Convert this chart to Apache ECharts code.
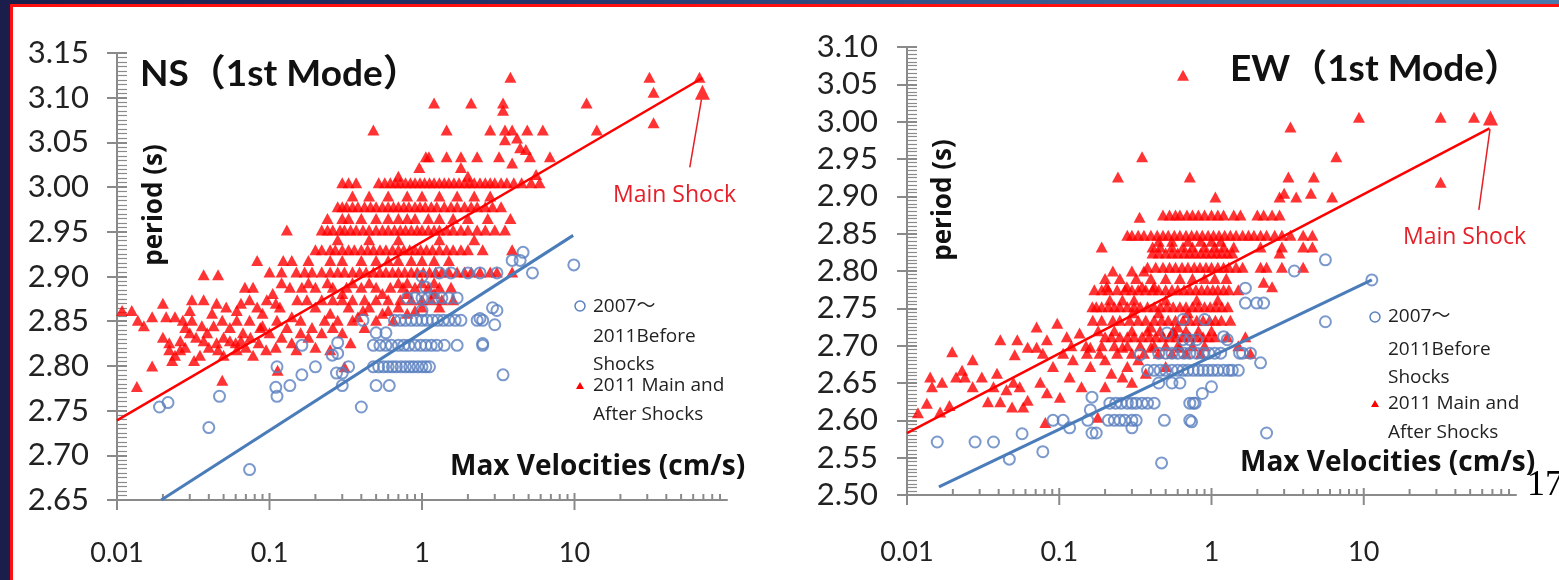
<!DOCTYPE html>
<html>
<head>
<meta charset="utf-8">
<script src="https://cdn.jsdelivr.net/npm/echarts@6/dist/echarts.min.js"></script>
<style>
  html, body { margin: 0; padding: 0; background: #fff; }
  #wrap { position: relative; width: 1559px; height: 580px; overflow: hidden; background: #fff; }
  #chart { position: absolute; left: 0; top: 0; width: 1559px; height: 580px; }
  .band-top { position: absolute; left: 0; top: 0; width: 1559px; height: 4px;
    background: linear-gradient(to right, #1b1e4b 0%, #24346a 35%, #3a5f93 70%, #4a79ab 100%); }
  .band-left { position: absolute; left: 0; top: 0; width: 10px; height: 580px; background: #1b1e4b; }
  .red-top { position: absolute; left: 10px; top: 4px; width: 1549px; height: 3px; background: #ff1010; }
  .red-left { position: absolute; left: 10px; top: 4px; width: 3px; height: 576px; background: #ff1010; }
</style>
</head>
<body>
<div id="wrap">
  <div id="chart"></div>
  <div class="band-top"></div>
  <div class="band-left"></div>
  <div class="red-top"></div>
  <div class="red-left"></div>
</div>
<script>
// ---------- NS (1st mode) ----------
// [max velocity (cm/s), period (s)]
const nsBefore = [
  [0.019,2.754],[0.0216,2.759],[0.047,2.766],[0.04,2.731],[0.074,2.684],[0.112,2.799],[0.11,2.776],
  [0.112,2.766],[0.136,2.778],[0.163,2.79],[0.2,2.799],[0.163,2.823],[0.258,2.812],[0.28,2.814],
  [0.28,2.826],[0.275,2.792],[0.3,2.792],[0.3,2.778],[0.33,2.799],[0.4,2.754],[0.5,2.778],[0.61,2.778],
  [0.41,2.851],[0.5,2.837],[0.58,2.837],
  [0.48,2.799],[0.52,2.799],[0.56,2.799],[0.6,2.799],[0.64,2.799],[0.68,2.799],[0.73,2.799],[0.78,2.799],
  [0.83,2.799],[0.88,2.799],[0.94,2.799],[1.0,2.799],[1.06,2.799],[1.12,2.799],
  [0.48,2.823],[0.53,2.823],[0.58,2.823],[0.63,2.823],[0.7,2.823],[0.76,2.823],[0.82,2.823],[0.9,2.823],
  [0.98,2.823],[1.06,2.823],[1.15,2.823],[1.25,2.823],[1.4,2.823],[1.7,2.823],[2.5,2.823],
  [0.66,2.851],[0.72,2.851],[0.78,2.851],[0.85,2.851],[0.92,2.851],[1.0,2.851],[1.08,2.851],[1.17,2.851],
  [1.27,2.851],[1.38,2.851],[1.5,2.851],[1.65,2.851],[1.8,2.851],[2.3,2.851],[2.5,2.851],
  [0.8,2.876],[0.9,2.876],[1.0,2.876],[1.1,2.876],[1.2,2.876],[1.35,2.876],[1.5,2.876],[1.7,2.876],
  [3.1,2.862],[3.0,2.846],[3.4,2.79],[4.6,2.927],[3.9,2.918],[4.4,2.918],[5.3,2.904],[9.9,2.913],
  [3.1,2.904],[2.4,2.904],[2.0,2.904],[1.55,2.904],[1.3,2.904],[1.06,2.888],[1.0,2.9],[2.9,2.865],
  [2.4,2.853],[2.5,2.825],[1.0,2.862]
];
const nsAfter = [
  [3.8,3.123],[31,3.123],[66,3.123],[33,3.106],
  [1.2,3.094],[2.1,3.094],[3.4,3.094],[12,3.094],[3.4,3.086],[33,3.072],
  [0.48,3.064],[1.45,3.064],[2.8,3.064],[3.5,3.064],[3.9,3.064],[4.9,3.064],[6.2,3.064],[14,3.064],
  [3.5,3.053],[4.2,3.055],[4.4,3.044],[4.8,3.042],
  [1.06,3.034],[1.11,3.034],[1.45,3.034],[1.8,3.034],[2.3,3.034],[3.2,3.034],[5.1,3.034],[6.9,3.034],
  [0.96,3.022],[1.8,3.022],[3.9,3.027],[0.7,3.012],[2.0,3.012],[5.6,3.014],
  [0.3,3.005],[0.33,3.005],[0.37,3.005],[0.52,3.005],[0.57,3.005],[0.62,3.005],[0.67,3.005],[0.72,3.005],
  [0.78,3.005],[0.84,3.005],[0.9,3.005],[0.97,3.005],[1.04,3.005],[1.12,3.005],[1.2,3.005],[1.3,3.005],
  [1.4,3.005],[1.5,3.005],[1.62,3.005],[1.75,3.005],[1.9,3.005],[2.05,3.005],[2.2,3.005],[2.4,3.005],
  [2.6,3.005],[2.8,3.005],[3.0,3.005],[3.3,3.005],[3.6,3.005],[4.0,3.005],[4.5,3.005],[5.2,3.005],[5.9,3.005],
  [0.35,2.99],[0.45,2.99],[0.6,2.99],[0.8,2.99],[1.0,2.99],[1.3,2.99],[1.7,2.99],[2.2,2.99],[2.8,2.99],
  [0.28,2.978],[0.3,2.978],[0.32,2.978],[0.35,2.978],[0.38,2.978],[0.42,2.978],[0.46,2.978],[0.5,2.978],
  [0.55,2.978],[0.6,2.978],[0.65,2.978],[0.7,2.978],[0.76,2.978],[0.82,2.978],[0.9,2.978],[0.97,2.978],
  [1.05,2.978],[1.15,2.978],[1.25,2.978],[1.4,2.978],[1.55,2.978],[1.7,2.978],[1.9,2.978],[2.1,2.978],
  [2.3,2.978],[2.6,2.978],[2.9,2.978],[3.3,2.978],
  [0.24,2.965],[0.3,2.965],[0.33,2.965],[0.4,2.965],[0.5,2.965],[0.6,2.965],[0.7,2.965],[0.8,2.965],
  [0.9,2.965],[1.1,2.965],[1.3,2.965],[1.6,2.965],[2.0,2.965],[2.7,2.965],[3.8,2.965],
  [0.13,2.952],[0.22,2.952],[0.24,2.952],[0.26,2.952],[0.29,2.952],[0.31,2.952],[0.34,2.952],[0.37,2.952],
  [0.41,2.952],[0.45,2.952],[0.5,2.952],[0.55,2.952],[0.6,2.952],[0.66,2.952],[0.72,2.952],[0.78,2.952],
  [0.85,2.952],[0.93,2.952],[1.0,2.952],[1.1,2.952],[1.2,2.952],[1.3,2.952],[1.45,2.952],[1.6,2.952],
  [1.8,2.952],[2.0,2.952],[2.3,2.952],[2.6,2.952],[3.0,2.952],[3.5,2.952],
  [0.28,2.941],[0.45,2.941],[0.7,2.941],[1.3,2.941],[2.2,2.941],
  [0.2,2.93],[0.22,2.93],[0.25,2.93],[0.27,2.93],[0.3,2.93],[0.33,2.93],[0.36,2.93],[0.4,2.93],
  [0.44,2.93],[0.48,2.93],[0.53,2.93],[0.58,2.93],[0.64,2.93],[0.7,2.93],[0.76,2.93],[0.83,2.93],
  [0.9,2.93],[0.98,2.93],[1.07,2.93],[1.17,2.93],[1.3,2.93],[1.45,2.93],[1.6,2.93],[1.8,2.93],[2.0,2.93],
  [2.5,2.93],[3.9,2.93],
  [0.083,2.918],[0.123,2.918],[0.14,2.918],[0.18,2.918],[0.25,2.918],[0.3,2.918],[0.4,2.918],[0.5,2.918],
  [0.6,2.918],[0.7,2.918],[0.85,2.918],[1.0,2.918],[1.2,2.918],[1.5,2.918],
  [0.1,2.905],[0.12,2.905],[0.15,2.905],[0.17,2.905],[0.19,2.905],[0.22,2.905],[0.25,2.905],[0.28,2.905],
  [0.31,2.905],[0.35,2.905],[0.39,2.905],[0.43,2.905],[0.48,2.905],[0.53,2.905],[0.58,2.905],[0.64,2.905],
  [0.7,2.905],[0.77,2.905],[0.85,2.905],[0.93,2.905],[1.02,2.905],[1.12,2.905],[1.23,2.905],[1.35,2.905],
  [1.5,2.905],[1.7,2.905],[1.9,2.905],[2.1,2.905],[2.4,2.905],[2.8,2.905],[3.1,2.905],[3.9,2.905],
  [0.037,2.902],[0.046,2.902],
  [0.12,2.893],[0.18,2.893],[0.24,2.893],[0.35,2.893],[0.45,2.893],[0.7,2.893],[0.8,2.893],[1.0,2.893],[1.2,2.893],
  [0.069,2.888],[0.078,2.888],[0.136,2.888],[0.163,2.888],[0.2,2.888],[0.26,2.888],[0.32,2.888],[0.4,2.888],
  [0.5,2.888],[0.62,2.888],[0.75,2.888],[0.9,2.888],[1.1,2.888],[1.3,2.888],[1.55,2.888],
  [0.105,2.881],[0.3,2.881],[0.55,2.881],[0.8,2.881],[1.2,2.881],
  [0.031,2.874],[0.037,2.874],[0.074,2.874],[0.096,2.874],[0.152,2.874],[0.176,2.874],[0.22,2.874],
  [0.26,2.874],[0.3,2.874],[0.35,2.874],[0.42,2.874],[0.5,2.874],[0.6,2.874],[0.72,2.874],[0.85,2.874],
  [1.0,2.874],[1.15,2.874],[1.35,2.874],[1.6,2.874],
  [0.02,2.87],[0.045,2.87],[0.065,2.87],[0.11,2.87],
  [0.052,2.866],[0.083,2.866],[0.117,2.866],[0.2,2.866],[0.33,2.866],[0.45,2.866],[0.7,2.866],[1.0,2.866],[1.3,2.866],
  [0.0108,2.862],[0.0125,2.862],[0.03,2.862],[0.061,2.862],[0.41,2.862],[0.6,2.862],[0.9,2.862],
  [0.042,2.859],[0.09,2.859],[0.25,2.859],[0.55,2.859],[0.8,2.859],
  [0.017,2.855],[0.021,2.855],[0.024,2.855],[0.14,2.855],[0.38,2.855],
  [0.0137,2.851],[0.027,2.851],[0.031,2.851],[0.049,2.851],[0.061,2.851],[0.074,2.851],[0.112,2.851],
  [0.16,2.851],[0.23,2.851],[0.28,2.851],[0.35,2.851],[0.5,2.851],[0.65,2.851],
  [0.015,2.845],[0.036,2.845],[0.043,2.845],[0.09,2.845],
  [0.028,2.843],[0.055,2.843],[0.087,2.843],[0.13,2.843],[0.19,2.843],[0.26,2.843],[0.42,2.843],
  [0.03,2.837],[0.039,2.837],[0.067,2.837],[0.1,2.837],[0.16,2.837],[0.22,2.837],[0.3,2.837],
  [0.02,2.832],[0.033,2.832],[0.05,2.832],[0.075,2.832],[0.12,2.832],[0.18,2.832],
  [0.026,2.828],[0.037,2.828],[0.055,2.828],[0.065,2.828],
  [0.022,2.826],[0.045,2.826],[0.06,2.826],[0.085,2.826],[0.14,2.826],[0.34,2.826],
  [0.028,2.821],[0.04,2.821],[0.07,2.821],[0.11,2.821],[0.2,2.821],
  [0.022,2.818],[0.026,2.818],[0.046,2.818],[0.061,2.818],[0.095,2.818],[0.15,2.818],[0.25,2.818],
  [0.024,2.812],[0.035,2.812],[0.05,2.812],[0.078,2.812],
  [0.023,2.806],[0.032,2.806],
  [0.017,2.8],[0.31,2.799],[0.113,2.795],[0.049,2.784],[0.0135,2.777]
];
const nsMainShock = [[69, 3.106]];
const nsTrendBefore = [[0.0195, 2.650], [9.8, 2.946]];
const nsTrendAfter = [[0.01, 2.739], [69, 3.122]];
const nsArrow = [[57, 3.022], [68, 3.098]];

// ---------- EW (1st mode) ----------
const ewBefore = [
  [0.0158,2.571],[0.028,2.571],[0.037,2.571],[0.057,2.582],[0.047,2.548],[0.078,2.558],[0.091,2.6],
  [0.106,2.6],[0.117,2.59],[0.154,2.6],[0.164,2.631],[0.16,2.614],[0.164,2.583],[0.175,2.583],
  [0.215,2.623],[0.235,2.623],[0.255,2.623],[0.28,2.623],[0.3,2.623],[0.32,2.623],[0.35,2.623],
  [0.38,2.623],[0.42,2.623],[0.72,2.623],[0.78,2.623],
  [0.21,2.6],[0.23,2.6],[0.25,2.6],[0.27,2.6],[0.3,2.6],[0.32,2.6],[0.49,2.6],
  [0.3,2.59],[0.74,2.598],[0.47,2.543],[0.34,2.688],[1.0,2.645],[0.45,2.65],[0.55,2.65],[0.62,2.65],
  [0.38,2.667],[0.42,2.667],[0.46,2.667],[0.5,2.667],[0.55,2.667],[0.6,2.667],[0.65,2.667],[0.7,2.667],
  [0.76,2.667],[0.82,2.667],[0.88,2.667],[0.95,2.667],[1.02,2.667],[1.1,2.667],[1.2,2.667],[1.3,2.667],[1.5,2.667],
  [0.45,2.69],[0.5,2.69],[0.55,2.69],[0.6,2.69],[0.66,2.69],[0.72,2.69],[0.8,2.69],[0.88,2.69],
  [0.96,2.69],[1.05,2.69],[1.15,2.69],[1.53,2.69],[1.8,2.69],
  [0.51,2.717],[0.65,2.708],[0.72,2.708],[0.8,2.708],[0.65,2.735],[0.9,2.735],[1.2,2.712],[2.1,2.677],
  [1.37,2.667],[5.6,2.815],[3.5,2.8],[11.3,2.788],[1.67,2.777],[1.67,2.757],[1.98,2.757],[2.2,2.757],
  [5.6,2.732],[0.87,2.636],[0.76,2.623],[0.72,2.6],[2.3,2.583],[1.6,2.69],[1.27,2.708]
];
const ewAfter = [
  [0.65,3.062],[3.3,2.993],[9.3,3.006],[32,3.006],[53,3.006],
  [6.6,2.953],[0.35,2.953],[0.72,2.926],[3.2,2.926],[4.7,2.926],[32,2.919],[0.243,2.926],
  [1.06,2.899],[2.8,2.899],[3.0,2.904],[3.6,2.899],[4.5,2.904],[6.2,2.899],[0.337,2.872],
  [0.48,2.875],[0.53,2.875],[0.58,2.875],[0.62,2.875],[0.69,2.875],[0.75,2.875],[0.82,2.875],[0.9,2.875],
  [1.0,2.875],[1.1,2.875],[1.2,2.875],[1.4,2.875],[1.55,2.875],[2.0,2.875],[2.2,2.875],[2.5,2.875],[2.8,2.875],
  [0.28,2.848],[0.3,2.848],[0.33,2.848],[0.36,2.848],[0.4,2.848],[0.44,2.848],[0.48,2.848],[0.52,2.848],
  [0.57,2.848],[0.62,2.848],[0.68,2.848],[0.74,2.848],[0.8,2.848],[0.87,2.848],[0.95,2.848],[1.03,2.848],
  [1.12,2.848],[1.22,2.848],[1.33,2.848],[1.45,2.848],[1.6,2.848],[1.75,2.848],[1.9,2.848],[2.1,2.848],
  [2.3,2.848],[2.6,2.848],[2.9,2.848],[3.3,2.848],[4.0,2.848],[4.6,2.848],
  [0.45,2.84],[0.55,2.84],[0.7,2.84],[0.85,2.84],[1.0,2.84],[1.15,2.84],
  [0.19,2.832],[0.41,2.832],[0.46,2.832],[0.55,2.832],[0.65,2.832],[0.75,2.832],[0.9,2.832],[1.05,2.832],
  [1.2,2.832],[1.4,2.832],[2.1,2.832],[2.9,2.832],[4.0,2.832],[4.6,2.832],
  [0.41,2.824],[0.45,2.824],[0.5,2.824],[0.55,2.824],[0.6,2.824],[0.66,2.824],[0.72,2.824],[0.78,2.824],
  [0.85,2.824],[0.92,2.824],[1.0,2.824],[1.08,2.824],[1.17,2.824],[1.27,2.824],[1.37,2.824],[2.8,2.824],
  [0.38,2.805],[0.43,2.805],[0.48,2.805],[0.53,2.805],[0.58,2.805],[0.64,2.805],[0.7,2.805],[0.77,2.805],
  [0.84,2.805],[0.92,2.805],[1.0,2.805],[1.1,2.805],[1.2,2.805],[1.3,2.805],[1.45,2.805],[1.6,2.805],
  [2.1,2.805],[2.3,2.805],[2.9,2.805],[4.0,2.805],
  [0.225,2.8],[0.3,2.8],[0.36,2.8],[2.2,2.785],[2.5,2.779],
  [0.2,2.79],[0.25,2.79],[0.32,2.79],[0.4,2.79],[0.5,2.79],[0.62,2.79],[0.75,2.79],[0.9,2.79],[1.05,2.79],[1.25,2.79],
  [0.205,2.779],[0.278,2.779],[0.35,2.779],[0.42,2.779],
  [0.17,2.775],[0.19,2.775],[0.21,2.775],[0.24,2.775],[0.27,2.775],[0.3,2.775],[0.33,2.775],[0.37,2.775],
  [0.41,2.775],[0.45,2.775],[0.5,2.775],[0.55,2.775],[0.6,2.775],[0.66,2.775],[0.72,2.775],[0.79,2.775],
  [0.86,2.775],[0.94,2.775],[1.02,2.775],[1.1,2.775],[1.2,2.775],[1.3,2.775],[1.5,2.775],
  [0.215,2.761],[0.26,2.761],[0.31,2.761],[0.5,2.761],[0.8,2.761],[1.1,2.761],
  [0.165,2.752],[0.175,2.752],[0.19,2.752],[0.21,2.752],[0.23,2.752],[0.25,2.752],[0.28,2.752],[0.31,2.752],
  [0.34,2.752],[0.38,2.752],[0.42,2.752],[0.46,2.752],[0.51,2.752],[0.56,2.752],[0.62,2.752],[0.68,2.752],
  [0.75,2.752],[0.82,2.752],[0.9,2.752],[0.98,2.752],[1.07,2.752],[1.17,2.752],[1.28,2.752],
  [0.304,2.744],[0.45,2.744],[0.7,2.744],
  [0.166,2.734],[0.19,2.734],[0.225,2.734],[0.25,2.734],[0.29,2.734],[0.33,2.734],[0.37,2.734],[0.42,2.734],
  [0.47,2.734],[0.52,2.734],[0.58,2.734],[0.65,2.734],[0.72,2.734],[0.8,2.734],[0.88,2.734],[0.97,2.734],
  [1.06,2.734],[1.16,2.734],[1.33,2.734],
  [0.097,2.73],[0.071,2.725],[0.4,2.725],[0.6,2.725],
  [0.18,2.72],[0.23,2.72],[0.3,2.72],[0.38,2.72],[0.46,2.72],[0.56,2.72],[0.68,2.72],[0.82,2.72],[1.0,2.72],
  [0.136,2.717],[0.55,2.717],
  [0.112,2.712],[0.2,2.712],[0.22,2.712],[0.25,2.712],[0.28,2.712],[0.31,2.712],[0.35,2.712],[0.39,2.712],
  [0.43,2.712],[0.48,2.712],[0.53,2.712],[0.59,2.712],[0.65,2.712],[0.72,2.712],[0.8,2.712],[0.88,2.712],
  [0.96,2.712],[1.05,2.712],[1.27,2.712],[1.67,2.712],
  [0.041,2.708],[0.053,2.708],[0.083,2.708],[1.5,2.7],
  [0.12,2.7],[0.15,2.7],[0.19,2.7],[0.23,2.7],[0.28,2.7],[0.34,2.7],[0.42,2.7],[0.5,2.7],[0.6,2.7],[0.75,2.7],[0.9,2.7],
  [0.062,2.698],[0.071,2.698],[0.16,2.698],[0.26,2.698],[0.4,2.698],[0.62,2.698],
  [0.078,2.69],[0.106,2.69],[0.152,2.69],[0.184,2.69],[0.24,2.69],[0.3,2.69],[0.36,2.69],[0.45,2.69],
  [0.55,2.69],[0.68,2.69],[0.85,2.69],[1.8,2.69],
  [0.051,2.688],[0.0198,2.692],
  [0.027,2.681],[0.123,2.681],[0.2,2.681],[0.33,2.681],
  [0.091,2.672],[0.16,2.672],[0.28,2.672],[0.5,2.672],
  [0.023,2.667],[0.039,2.663],[0.22,2.663],[0.37,2.663],
  [0.0142,2.658],[0.021,2.658],[0.024,2.658],[0.031,2.658],[0.117,2.658],[0.26,2.658],
  [0.017,2.651],[0.05,2.651],[0.075,2.651],[0.3,2.651],
  [0.0146,2.645],[0.027,2.645],[0.037,2.645],[0.055,2.645],[0.14,2.645],[0.2,2.645],
  [0.045,2.641],[0.083,2.637],[0.101,2.631],[0.062,2.627],[0.034,2.625],[0.041,2.625],[0.0135,2.623],
  [0.019,2.62],[0.049,2.618],[0.058,2.618],[0.0165,2.611],[0.0118,2.61],[0.179,2.604],[0.081,2.597]
];
const ewMainShock = [[68, 3.005]];
const ewTrendBefore = [[0.0162, 2.511], [11.3, 2.788]];
const ewTrendAfter = [[0.01, 2.583], [67, 2.991]];
const ewArrow = [[57, 2.882], [67.5, 2.990]];

// axis ranges and x tick values (decades with 2..9 subdivisions)
const nsRange = [2.65, 3.15];
const ewRange = [2.50, 3.10];
const xMajor = [0.01, 0.1, 1, 10];
const xMinorSteps = [2, 3, 4, 5, 6, 7, 8, 9];

const RED = '#ff0000';
const BLUE = '#5a80bf';
const BLUE_LINE = '#4a7cba';
const AXIS = '#8a8a8a';
const FONT = 'Lato, "Noto Sans CJK JP", sans-serif';
const FONT_WIDE = '"Open Sans", "Noto Sans CJK JP", sans-serif';

function tickData(yMin) {
  const out = [];
  xMajor.forEach(function (d) {
    out.push([d, yMin, 1]);
    xMinorSteps.forEach(function (s) { out.push([+(d * s).toPrecision(3), yMin, 0]); });
  });
  return out;
}

function tickSeries(xi, yi, yMin) {
  return {
    type: 'custom', xAxisIndex: xi, yAxisIndex: yi, silent: true, clip: false, z: 1,
    data: tickData(yMin),
    renderItem: function (params, api) {
      const p = api.coord([api.value(0), api.value(1)]);
      const major = api.value(2) === 1;
      return {
        type: 'line',
        shape: { x1: p[0], y1: p[1] - (major ? 7 : 6), x2: p[0], y2: p[1] + (major ? 10 : 0) },
        style: { stroke: AXIS, lineWidth: 2 }
      };
    }
  };
}

function xAxisDef(grid, margin) {
  return {
    type: 'log', logBase: 10, gridIndex: grid, min: 0.01, max: 100,
    axisLine: { show: true, lineStyle: { color: AXIS, width: 2 } },
    axisTick: { show: false }, minorTick: { show: false },
    splitLine: { show: false },
    axisLabel: {
      margin: margin, color: '#222', fontFamily: FONT, fontSize: 27,
      formatter: function (v) { return v >= 99 ? '' : String(+Number(v).toPrecision(2)); }
    }
  };
}

function yAxisPair(grid, range, margin) {
  const base = { type: 'value', gridIndex: grid, min: range[0], max: range[1], interval: 0.05,
                 splitLine: { show: false }, position: 'left' };
  return [
    Object.assign({}, base, {
      axisLine: { show: true, lineStyle: { color: AXIS, width: 2 } },
      axisTick: { show: true, inside: false, length: 10, lineStyle: { color: AXIS, width: 2 } },
      axisLabel: { margin: margin, color: '#222', fontFamily: FONT, fontSize: 31,
                   formatter: function (v) { return v.toFixed(2); } }
    }),
    Object.assign({}, base, {
      axisLine: { show: false },
      axisTick: { show: true, inside: true, length: 10, lineStyle: { color: AXIS, width: 2 } },
      minorTick: { show: true, splitNumber: 10, length: 10, lineStyle: { color: AXIS, width: 1.2 } },
      axisLabel: { show: false }
    })
  ];
}

function panelSeries(xi, yi, before, after, mainShock, trendBefore, trendAfter, arrow) {
  return [
    { name: '2011 Main and After Shocks', type: 'scatter', xAxisIndex: xi, yAxisIndex: yi,
      symbol: 'triangle', symbolSize: [12, 11], itemStyle: { color: RED }, data: after, z: 3 },
    { name: '2007～2011Before Shocks', type: 'scatter', xAxisIndex: xi, yAxisIndex: yi,
      symbol: 'circle', symbolSize: 11,
      itemStyle: { color: 'rgba(255,255,255,0)', borderColor: BLUE, borderWidth: 2 },
      data: before, z: 4 },
    { type: 'scatter', xAxisIndex: xi, yAxisIndex: yi, symbol: 'triangle', symbolSize: 15,
      itemStyle: { color: RED }, data: mainShock, z: 5 },
    { type: 'line', xAxisIndex: xi, yAxisIndex: yi, data: trendAfter, showSymbol: false,
      lineStyle: { color: RED, width: 2.5 }, z: 6, silent: true },
    { type: 'line', xAxisIndex: xi, yAxisIndex: yi, data: trendBefore, showSymbol: false,
      lineStyle: { color: BLUE_LINE, width: 3 }, z: 6, silent: true },
    { type: 'line', xAxisIndex: xi, yAxisIndex: yi, data: arrow, showSymbol: false,
      lineStyle: { color: '#e52028', width: 1.5 }, z: 6, silent: true }
  ];
}

function txt(x, y, text, font, fill) {
  return { type: 'text', x: x, y: y, z: 100,
    style: { text: text, font: font, fill: fill || '#111', textAlign: 'left', textVerticalAlign: 'middle' } };
}

function vtxt(x, y, text, font) {
  return { type: 'text', x: x, y: y, z: 100, rotation: Math.PI / 2,
    style: { text: text, font: font, fill: '#111', textAlign: 'center', textVerticalAlign: 'middle' } };
}

const chart = echarts.init(document.getElementById('chart'), null, { renderer: 'canvas' });

const yLeft = yAxisPair(0, nsRange, 28);
const yRight = yAxisPair(1, ewRange, 29);

chart.setOption({
  animation: false,
  backgroundColor: 'transparent',
  grid: [
    { left: 117, top: 53, width: 610, height: 447 },
    { left: 907, top: 47, width: 609, height: 448 }
  ],
  xAxis: [xAxisDef(0, 40), xAxisDef(1, 44)],
  yAxis: [yLeft[0], yLeft[1], yRight[0], yRight[1]],
  series: [].concat(
    panelSeries(0, 0, nsBefore, nsAfter, nsMainShock, nsTrendBefore, nsTrendAfter, nsArrow),
    panelSeries(1, 2, ewBefore, ewAfter, ewMainShock, ewTrendBefore, ewTrendAfter, ewArrow),
    [tickSeries(0, 0, nsRange[0]), tickSeries(1, 2, ewRange[0])]
  ),
  graphic: [
    // panel titles
    txt(140, 74, 'NS（1st Mode）', 'bold 37px ' + FONT, '#111'),
    txt(1230, 69, 'EW（1st Mode）', 'bold 37px ' + FONT, '#111'),
    // y axis names
    vtxt(155, 205, 'period (s)', 'bold 26px ' + FONT_WIDE),
    vtxt(944, 200, 'period (s)', 'bold 26px ' + FONT_WIDE),
    // x axis names
    txt(450, 467, 'Max Velocities (cm/s)', 'bold 28px ' + FONT_WIDE, '#111'),
    txt(1240, 463, 'Max Velocities (cm/s)', 'bold 28px ' + FONT_WIDE, '#111'),
    // main shock labels
    txt(613, 195, 'Main Shock', '23px ' + FONT_WIDE, '#e52028'),
    txt(1403, 237, 'Main Shock', '23px ' + FONT_WIDE, '#e52028'),
    // legend, NS panel
    { type: 'circle', shape: { cx: 580, cy: 306, r: 5 }, style: { fill: 'none', stroke: BLUE, lineWidth: 1.5 }, z: 100 },
    txt(593, 307, '2007～', '19px ' + FONT_WIDE, '#222'),
    txt(593, 337, '2011Before', '19px ' + FONT_WIDE, '#222'),
    txt(593, 365, 'Shocks', '19px ' + FONT_WIDE, '#222'),
    { type: 'polygon', shape: { points: [[580, 382], [576, 389], [584, 389]] }, style: { fill: RED }, z: 100 },
    txt(593, 386, '2011 Main and', '19px ' + FONT_WIDE, '#222'),
    txt(593, 415, 'After Shocks', '19px ' + FONT_WIDE, '#222'),
    // legend, EW panel
    { type: 'circle', shape: { cx: 1375, cy: 317, r: 5 }, style: { fill: 'none', stroke: BLUE, lineWidth: 1.5 }, z: 100 },
    txt(1388, 317, '2007～', '19px ' + FONT_WIDE, '#222'),
    txt(1388, 350, '2011Before', '19px ' + FONT_WIDE, '#222'),
    txt(1388, 378, 'Shocks', '19px ' + FONT_WIDE, '#222'),
    { type: 'polygon', shape: { points: [[1375, 400], [1371, 407], [1379, 407]] }, style: { fill: RED }, z: 100 },
    txt(1388, 404, '2011 Main and', '19px ' + FONT_WIDE, '#222'),
    txt(1388, 433, 'After Shocks', '19px ' + FONT_WIDE, '#222'),
    // slide page number
    txt(1527, 486, '17', '36px "Liberation Serif", "DejaVu Serif", serif', '#000')
  ]
});
</script>
</body>
</html>
